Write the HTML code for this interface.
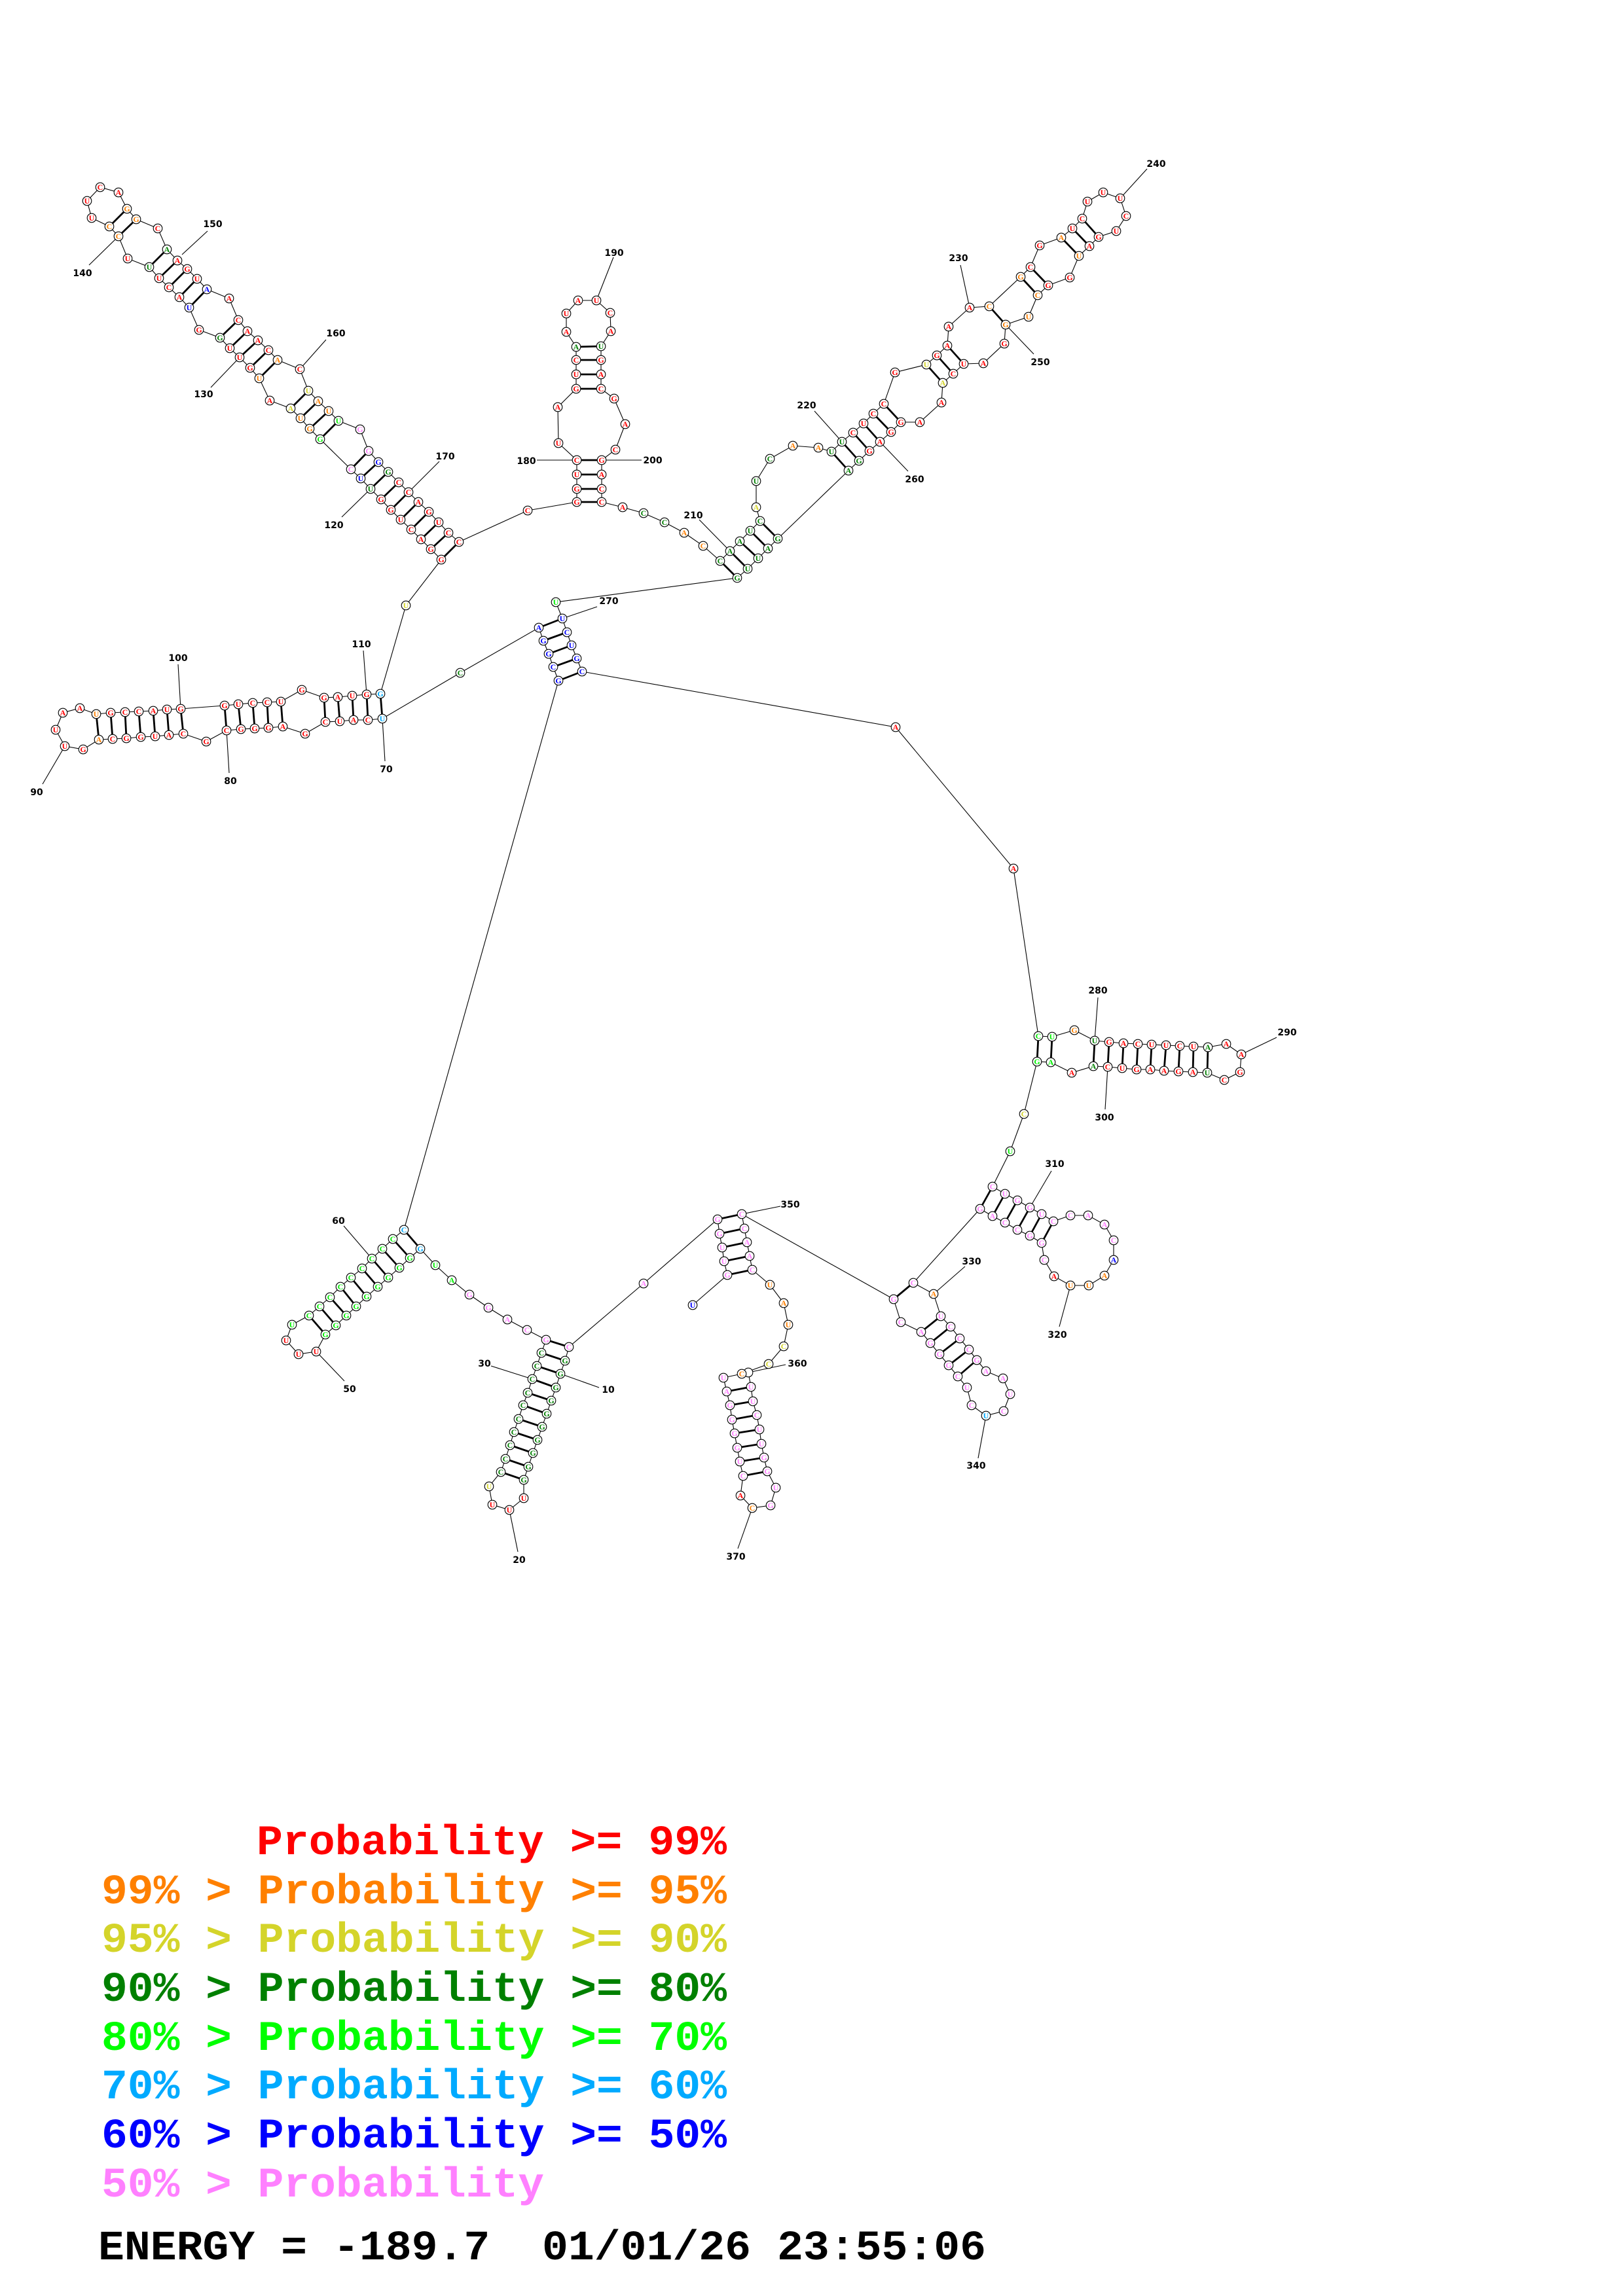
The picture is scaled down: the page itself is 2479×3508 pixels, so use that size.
<!DOCTYPE html>
<html><head><meta charset="utf-8"><style>
html,body{margin:0;padding:0;background:#fff}
svg{display:block}
.bb{fill:none;stroke:#000;stroke-width:1.1}
.pr{fill:none;stroke:#000;stroke-width:2.8}
.nd circle{fill:#fff;stroke:#000;stroke-width:1.1}
.nt text{font-family:"Liberation Serif",serif;font-weight:bold;font-size:12px;text-anchor:middle}
.lb text{font-family:"DejaVu Sans",sans-serif;font-weight:bold;font-size:14px;text-anchor:middle;fill:#000}
.r{fill:#ff0000}.o{fill:#ff8000}.y{fill:#d4d42a}.d{fill:#008000}.g{fill:#00ee00}.c{fill:#00aaff}.b{fill:#0000ff}.p{fill:#ff80ff}
.lg{font-family:"Liberation Mono",monospace;font-weight:bold;font-size:64px}
</style></head><body>
<svg width="2479" height="3508" viewBox="0 0 2479 3508" xmlns="http://www.w3.org/2000/svg">
<rect width="2479" height="3508" fill="#fff"/>
<g class="bb">
<polyline points="674,855 658,839 643,824 628,809 612,794 597,779 582,763 566,747 551,731 536,717 489,671 473,655 459,639 444,624 412,612 396,578 382,562 366,546 351,532 336,516 304,504 289,470 274,454 258,439 243,425 228,408 195,395 181,361 167,346 140,333 133,307 153,286 181,294 194,319 208,335 241,349 255,381 271,398 286,411 301,426 316,442 350,456 364,489 378,506 394,520 410,535 424,550 458,564 471,597 486,613 502,628 517,643 550,656 563,689 578,706 593,721 609,737 624,752 639,767 655,782 670,798 685,814 701,828 806,780 881,767"/>
<polyline points="674,855 620,925 581,1060"/>
<polyline points="881,767 881,747 881,725 881,703 853,677 852,622 880,594 880,572 880,550 880,530 865,507 865,479 883,459 911,459 932,478 933,506 918,529 918,550 918,572 918,594 938,609 955,648 940,687 919,703 919,725 919,747 919,767 951,775 983,784 1015,798 1045,814 1074,834 1100,857 1115,842 1130,827 1146,811 1161,796 1155,775 1155,735 1176,701 1211,681 1250,684 1270,690 1286,675 1303,661 1319,647 1334,632 1350,617 1367,569 1415,557 1431,543 1447,528 1449,499 1481,470 1511,468 1559,423 1574,408 1588,375 1621,363 1638,349 1653,334 1661,308 1685,294 1711,303 1720,330 1705,353 1678,362 1664,376 1648,391 1634,424 1601,436 1585,451 1571,484 1536,496 1534,525 1502,555 1472,556 1456,571 1440,585 1438,615 1405,645 1376,645 1361,660 1344,675 1328,689 1312,704 1296,719 1188,823 1173,838 1158,853 1142,869 1126,883 849,920 859,945 866,966 873,986 881,1006 889,1026 1368,1111 1548,1327 1586,1583 1607,1584 1641,1574 1672,1590 1694,1592 1716,1594 1738,1595 1759,1596 1781,1597 1802,1598 1823,1599 1845,1600 1873,1595 1896,1611 1894,1638 1870,1650 1844,1639 1822,1638 1800,1637 1778,1636 1757,1634 1736,1634 1714,1632 1692,1630 1670,1629 1637,1639 1605,1623 1584,1622 1564,1702 1543,1759 1516,1813 1535,1824 1554,1834 1573,1845 1591,1855 1609,1866 1635,1857 1662,1857 1687,1871 1701,1895 1701,1925 1687,1949 1663,1964 1635,1964 1610,1950 1595,1925 1591,1899 1573,1888 1554,1879 1535,1868 1516,1858 1497,1847 1395,1960 1426,1977 1437,2011 1452,2027 1466,2045 1480,2062 1492,2078 1506,2095 1532,2106 1543,2130 1533,2156 1506,2163 1484,2147 1477,2120 1463,2103 1449,2086 1435,2069 1421,2052 1407,2035 1376,2020 1365,1985 1133,1855 1137,1877 1141,1898 1145,1919 1149,1940 1176,1963 1197,1991 1204,2024 1197,2057 1174,2084 1133,2099 1105,2105 1110,2126 1115,2147 1118,2169 1122,2190 1126,2212 1130,2233 1135,2255 1131,2285 1149,2304 1177,2300 1185,2273 1172,2248 1167,2227 1163,2206 1160,2184 1156,2162 1150,2141 1147,2119 1143,2097"/>
<polyline points="581,1060 560,1061 538,1063 516,1065 495,1066 461,1054 429,1072 408,1073 386,1074 364,1076 343,1078 276,1083 255,1084 234,1086 212,1087 191,1088 169,1089 147,1091 122,1082 96,1089 85,1115 99,1140 127,1145 151,1130 172,1129 193,1128 215,1126 237,1125 258,1123 280,1121 315,1133 346,1116 368,1114 389,1113 410,1112 432,1110 466,1121 497,1103 519,1102 540,1100 562,1100 584,1098 703,1028 823,959 830,979 838,999 845,1019 853,1040 617,1879 600,1893 584,1908 568,1923 553,1938 536,1952 520,1966 504,1982 488,1996 472,2010 446,2024 437,2048 456,2069 483,2065 497,2039 513,2025 529,2010 544,1996 560,1981 577,1966 593,1952 610,1937 626,1922 642,1908 665,1933 690,1956 717,1978 746,1998 775,2016 805,2032 834,2047 827,2067 820,2087 813,2107 806,2128 799,2147 792,2168 785,2188 779,2208 772,2229 765,2249 747,2271 752,2299 778,2307 800,2289 800,2261 807,2241 814,2220 821,2200 828,2180 835,2160 842,2140 849,2120 856,2099 863,2079 869,2058 983,1961 1096,1863 1099,1885 1103,1906 1106,1927 1111,1948 1058,1994"/>
<path d="M136,405L181,361 M278,389L317,353 M322,592L366,546 M458,564L498,519 M522,790L566,747 M671,705L624,752 M820,703L881,703 M937,393L911,459 M919,703L980,703 M272,1015L276,1083 M555,994L560,1061 M584,1098L588,1163 M346,1116L350,1181 M99,1140L65,1198 M859,945L912,927 M1068,794L1115,842 M1244,628L1286,675 M1467,405L1481,470 M1752,258L1711,303 M1536,496L1579,541 M1344,675L1387,720 M1677,1524L1672,1590 M1896,1611L1950,1585 M1692,1630L1688,1695 M1573,1845L1606,1789 M1635,1964L1618,2027 M1426,1977L1474,1935 M1506,2163L1494,2228 M1133,1855L1192,1843 M1143,2097L1200,2085 M1149,2304L1127,2366 M856,2099L915,2120 M778,2307L791,2371 M750,2087L813,2107 M483,2065L526,2110 M525,1873L568,1923"/>
</g>
<path class="pr" d="M674,855L701,828M658,839L685,814M643,824L670,798M628,809L655,782M612,794L639,767M597,779L624,752M582,763L609,737M566,747L593,721M551,731L578,706M536,717L563,689M489,671L517,643M473,655L502,628M459,639L486,613M444,624L471,597M396,578L424,550M382,562L410,535M366,546L394,520M351,532L378,506M336,516L364,489M289,470L316,442M274,454L301,426M258,439L286,411M243,425L271,398M228,408L255,381M181,361L208,335M167,346L194,319
M881,767L919,767M881,747L919,747M881,725L919,725M881,703L919,703M880,594L918,594M880,572L918,572M880,550L918,550M880,530L918,529
M1100,857L1126,883M1115,842L1142,869M1130,827L1158,853M1146,811L1173,838M1161,796L1188,823M1270,690L1296,719M1286,675L1312,704M1303,661L1328,689M1319,647L1344,675M1334,632L1361,660M1350,617L1376,645M1415,557L1440,585M1431,543L1456,571M1447,528L1472,556M1511,468L1536,496M1559,423L1585,451M1574,408L1601,436M1621,363L1648,391M1638,349L1664,376M1653,334L1678,362
M823,959L859,945M830,979L866,966M838,999L873,986M845,1019L881,1006M853,1040L889,1026
M581,1060L584,1098M560,1061L562,1100M538,1063L540,1100M516,1065L519,1102M495,1066L497,1103M429,1072L432,1110M408,1073L410,1112M386,1074L389,1113M364,1076L368,1114M343,1078L346,1116M276,1083L280,1121M255,1084L258,1123M234,1086L237,1125M212,1087L215,1126M191,1088L193,1128M169,1089L172,1129M147,1091L151,1130
M869,2058L834,2047M863,2079L827,2067M856,2099L820,2087M849,2120L813,2107M842,2140L806,2128M835,2160L799,2147M828,2180L792,2168M821,2200L785,2188M814,2220L779,2208M807,2241L772,2229M800,2261L765,2249
M617,1879L642,1908M600,1893L626,1922M584,1908L610,1937M568,1923L593,1952M553,1938L577,1966M536,1952L560,1981M520,1966L544,1996M504,1982L529,2010M488,1996L513,2025M472,2010L497,2039
M1096,1863L1133,1855M1099,1885L1137,1877M1103,1906L1141,1898M1106,1927L1145,1919M1111,1948L1149,1940M1110,2126L1147,2119M1115,2147L1150,2141M1118,2169L1156,2162M1122,2190L1160,2184M1126,2212L1163,2206M1130,2233L1167,2227M1135,2255L1172,2248
M1586,1583L1584,1622M1607,1584L1605,1623M1672,1590L1670,1629M1694,1592L1692,1630M1716,1594L1714,1632M1738,1595L1736,1634M1759,1596L1757,1634M1781,1597L1778,1636M1802,1598L1800,1637M1823,1599L1822,1638M1845,1600L1844,1639
M1516,1813L1497,1847M1535,1824L1516,1858M1554,1834L1535,1868M1573,1845L1554,1879M1591,1855L1573,1888M1609,1866L1591,1899
M1395,1960L1365,1985M1437,2011L1407,2035M1452,2027L1421,2052M1466,2045L1435,2069M1480,2062L1449,2086M1492,2078L1463,2103"/>
<g class="nd">
<circle cx="674" cy="855" r="6.8"/><circle cx="658" cy="839" r="6.8"/><circle cx="643" cy="824" r="6.8"/><circle cx="628" cy="809" r="6.8"/><circle cx="612" cy="794" r="6.8"/><circle cx="597" cy="779" r="6.8"/><circle cx="582" cy="763" r="6.8"/><circle cx="566" cy="747" r="6.8"/><circle cx="551" cy="731" r="6.8"/><circle cx="536" cy="717" r="6.8"/><circle cx="489" cy="671" r="6.8"/><circle cx="473" cy="655" r="6.8"/><circle cx="459" cy="639" r="6.8"/><circle cx="444" cy="624" r="6.8"/><circle cx="412" cy="612" r="6.8"/><circle cx="396" cy="578" r="6.8"/><circle cx="382" cy="562" r="6.8"/><circle cx="366" cy="546" r="6.8"/><circle cx="351" cy="532" r="6.8"/><circle cx="336" cy="516" r="6.8"/><circle cx="304" cy="504" r="6.8"/><circle cx="289" cy="470" r="6.8"/><circle cx="274" cy="454" r="6.8"/><circle cx="258" cy="439" r="6.8"/><circle cx="243" cy="425" r="6.8"/><circle cx="228" cy="408" r="6.8"/><circle cx="195" cy="395" r="6.8"/><circle cx="181" cy="361" r="6.8"/><circle cx="167" cy="346" r="6.8"/><circle cx="140" cy="333" r="6.8"/><circle cx="133" cy="307" r="6.8"/><circle cx="153" cy="286" r="6.8"/><circle cx="181" cy="294" r="6.8"/><circle cx="194" cy="319" r="6.8"/><circle cx="208" cy="335" r="6.8"/><circle cx="241" cy="349" r="6.8"/><circle cx="255" cy="381" r="6.8"/><circle cx="271" cy="398" r="6.8"/><circle cx="286" cy="411" r="6.8"/><circle cx="301" cy="426" r="6.8"/><circle cx="316" cy="442" r="6.8"/><circle cx="350" cy="456" r="6.8"/><circle cx="364" cy="489" r="6.8"/><circle cx="378" cy="506" r="6.8"/><circle cx="394" cy="520" r="6.8"/><circle cx="410" cy="535" r="6.8"/><circle cx="424" cy="550" r="6.8"/><circle cx="458" cy="564" r="6.8"/><circle cx="471" cy="597" r="6.8"/><circle cx="486" cy="613" r="6.8"/><circle cx="502" cy="628" r="6.8"/><circle cx="517" cy="643" r="6.8"/><circle cx="550" cy="656" r="6.8"/><circle cx="563" cy="689" r="6.8"/><circle cx="578" cy="706" r="6.8"/><circle cx="593" cy="721" r="6.8"/><circle cx="609" cy="737" r="6.8"/><circle cx="624" cy="752" r="6.8"/><circle cx="639" cy="767" r="6.8"/><circle cx="655" cy="782" r="6.8"/><circle cx="670" cy="798" r="6.8"/><circle cx="685" cy="814" r="6.8"/><circle cx="701" cy="828" r="6.8"/>
<circle cx="806" cy="780" r="6.8"/><circle cx="620" cy="925" r="6.8"/>
<circle cx="881" cy="767" r="6.8"/><circle cx="881" cy="747" r="6.8"/><circle cx="881" cy="725" r="6.8"/><circle cx="881" cy="703" r="6.8"/><circle cx="853" cy="677" r="6.8"/><circle cx="852" cy="622" r="6.8"/><circle cx="880" cy="594" r="6.8"/><circle cx="880" cy="572" r="6.8"/><circle cx="880" cy="550" r="6.8"/><circle cx="880" cy="530" r="6.8"/><circle cx="865" cy="507" r="6.8"/><circle cx="865" cy="479" r="6.8"/><circle cx="883" cy="459" r="6.8"/><circle cx="911" cy="459" r="6.8"/><circle cx="932" cy="478" r="6.8"/><circle cx="933" cy="506" r="6.8"/><circle cx="918" cy="529" r="6.8"/><circle cx="918" cy="550" r="6.8"/><circle cx="918" cy="572" r="6.8"/><circle cx="918" cy="594" r="6.8"/><circle cx="938" cy="609" r="6.8"/><circle cx="955" cy="648" r="6.8"/><circle cx="940" cy="687" r="6.8"/><circle cx="919" cy="703" r="6.8"/><circle cx="919" cy="725" r="6.8"/><circle cx="919" cy="747" r="6.8"/><circle cx="919" cy="767" r="6.8"/><circle cx="951" cy="775" r="6.8"/><circle cx="983" cy="784" r="6.8"/><circle cx="1015" cy="798" r="6.8"/><circle cx="1045" cy="814" r="6.8"/><circle cx="1074" cy="834" r="6.8"/>
<circle cx="1100" cy="857" r="6.8"/><circle cx="1115" cy="842" r="6.8"/><circle cx="1130" cy="827" r="6.8"/><circle cx="1146" cy="811" r="6.8"/><circle cx="1161" cy="796" r="6.8"/><circle cx="1155" cy="775" r="6.8"/><circle cx="1155" cy="735" r="6.8"/><circle cx="1176" cy="701" r="6.8"/><circle cx="1211" cy="681" r="6.8"/><circle cx="1250" cy="684" r="6.8"/><circle cx="1270" cy="690" r="6.8"/><circle cx="1286" cy="675" r="6.8"/><circle cx="1303" cy="661" r="6.8"/><circle cx="1319" cy="647" r="6.8"/><circle cx="1334" cy="632" r="6.8"/><circle cx="1350" cy="617" r="6.8"/><circle cx="1367" cy="569" r="6.8"/><circle cx="1415" cy="557" r="6.8"/><circle cx="1431" cy="543" r="6.8"/><circle cx="1447" cy="528" r="6.8"/><circle cx="1449" cy="499" r="6.8"/><circle cx="1481" cy="470" r="6.8"/><circle cx="1511" cy="468" r="6.8"/><circle cx="1559" cy="423" r="6.8"/><circle cx="1574" cy="408" r="6.8"/><circle cx="1588" cy="375" r="6.8"/><circle cx="1621" cy="363" r="6.8"/><circle cx="1638" cy="349" r="6.8"/><circle cx="1653" cy="334" r="6.8"/><circle cx="1661" cy="308" r="6.8"/><circle cx="1685" cy="294" r="6.8"/><circle cx="1711" cy="303" r="6.8"/><circle cx="1720" cy="330" r="6.8"/><circle cx="1705" cy="353" r="6.8"/><circle cx="1678" cy="362" r="6.8"/><circle cx="1664" cy="376" r="6.8"/><circle cx="1648" cy="391" r="6.8"/><circle cx="1634" cy="424" r="6.8"/><circle cx="1601" cy="436" r="6.8"/><circle cx="1585" cy="451" r="6.8"/><circle cx="1571" cy="484" r="6.8"/><circle cx="1536" cy="496" r="6.8"/><circle cx="1534" cy="525" r="6.8"/><circle cx="1502" cy="555" r="6.8"/><circle cx="1472" cy="556" r="6.8"/><circle cx="1456" cy="571" r="6.8"/><circle cx="1440" cy="585" r="6.8"/><circle cx="1438" cy="615" r="6.8"/><circle cx="1405" cy="645" r="6.8"/><circle cx="1376" cy="645" r="6.8"/><circle cx="1361" cy="660" r="6.8"/><circle cx="1344" cy="675" r="6.8"/><circle cx="1328" cy="689" r="6.8"/><circle cx="1312" cy="704" r="6.8"/><circle cx="1296" cy="719" r="6.8"/><circle cx="1188" cy="823" r="6.8"/><circle cx="1173" cy="838" r="6.8"/><circle cx="1158" cy="853" r="6.8"/><circle cx="1142" cy="869" r="6.8"/><circle cx="1126" cy="883" r="6.8"/>
<circle cx="849" cy="920" r="6.8"/><circle cx="859" cy="945" r="6.8"/><circle cx="866" cy="966" r="6.8"/><circle cx="873" cy="986" r="6.8"/><circle cx="881" cy="1006" r="6.8"/><circle cx="889" cy="1026" r="6.8"/><circle cx="823" cy="959" r="6.8"/><circle cx="830" cy="979" r="6.8"/><circle cx="838" cy="999" r="6.8"/><circle cx="845" cy="1019" r="6.8"/><circle cx="853" cy="1040" r="6.8"/><circle cx="703" cy="1028" r="6.8"/><circle cx="1368" cy="1111" r="6.8"/><circle cx="1548" cy="1327" r="6.8"/>
<circle cx="581" cy="1060" r="6.8"/><circle cx="560" cy="1061" r="6.8"/><circle cx="538" cy="1063" r="6.8"/><circle cx="516" cy="1065" r="6.8"/><circle cx="495" cy="1066" r="6.8"/><circle cx="461" cy="1054" r="6.8"/><circle cx="429" cy="1072" r="6.8"/><circle cx="408" cy="1073" r="6.8"/><circle cx="386" cy="1074" r="6.8"/><circle cx="364" cy="1076" r="6.8"/><circle cx="343" cy="1078" r="6.8"/><circle cx="276" cy="1083" r="6.8"/><circle cx="255" cy="1084" r="6.8"/><circle cx="234" cy="1086" r="6.8"/><circle cx="212" cy="1087" r="6.8"/><circle cx="191" cy="1088" r="6.8"/><circle cx="169" cy="1089" r="6.8"/><circle cx="147" cy="1091" r="6.8"/><circle cx="122" cy="1082" r="6.8"/><circle cx="96" cy="1089" r="6.8"/><circle cx="85" cy="1115" r="6.8"/><circle cx="99" cy="1140" r="6.8"/><circle cx="127" cy="1145" r="6.8"/><circle cx="151" cy="1130" r="6.8"/><circle cx="172" cy="1129" r="6.8"/><circle cx="193" cy="1128" r="6.8"/><circle cx="215" cy="1126" r="6.8"/><circle cx="237" cy="1125" r="6.8"/><circle cx="258" cy="1123" r="6.8"/><circle cx="280" cy="1121" r="6.8"/><circle cx="315" cy="1133" r="6.8"/><circle cx="346" cy="1116" r="6.8"/><circle cx="368" cy="1114" r="6.8"/><circle cx="389" cy="1113" r="6.8"/><circle cx="410" cy="1112" r="6.8"/><circle cx="432" cy="1110" r="6.8"/><circle cx="466" cy="1121" r="6.8"/><circle cx="497" cy="1103" r="6.8"/><circle cx="519" cy="1102" r="6.8"/><circle cx="540" cy="1100" r="6.8"/><circle cx="562" cy="1100" r="6.8"/><circle cx="584" cy="1098" r="6.8"/>
<circle cx="617" cy="1879" r="6.8"/><circle cx="642" cy="1908" r="6.8"/><circle cx="665" cy="1933" r="6.8"/><circle cx="690" cy="1956" r="6.8"/><circle cx="717" cy="1978" r="6.8"/><circle cx="746" cy="1998" r="6.8"/><circle cx="775" cy="2016" r="6.8"/><circle cx="805" cy="2032" r="6.8"/><circle cx="834" cy="2047" r="6.8"/><circle cx="869" cy="2058" r="6.8"/><circle cx="863" cy="2079" r="6.8"/><circle cx="856" cy="2099" r="6.8"/><circle cx="849" cy="2120" r="6.8"/><circle cx="842" cy="2140" r="6.8"/><circle cx="835" cy="2160" r="6.8"/><circle cx="828" cy="2180" r="6.8"/><circle cx="821" cy="2200" r="6.8"/><circle cx="814" cy="2220" r="6.8"/><circle cx="807" cy="2241" r="6.8"/><circle cx="800" cy="2261" r="6.8"/><circle cx="800" cy="2289" r="6.8"/><circle cx="778" cy="2307" r="6.8"/><circle cx="752" cy="2299" r="6.8"/><circle cx="747" cy="2271" r="6.8"/><circle cx="765" cy="2249" r="6.8"/><circle cx="772" cy="2229" r="6.8"/><circle cx="779" cy="2208" r="6.8"/><circle cx="785" cy="2188" r="6.8"/><circle cx="792" cy="2168" r="6.8"/><circle cx="799" cy="2147" r="6.8"/><circle cx="806" cy="2128" r="6.8"/><circle cx="813" cy="2107" r="6.8"/><circle cx="820" cy="2087" r="6.8"/><circle cx="827" cy="2067" r="6.8"/>
<circle cx="600" cy="1893" r="6.8"/><circle cx="584" cy="1908" r="6.8"/><circle cx="568" cy="1923" r="6.8"/><circle cx="553" cy="1938" r="6.8"/><circle cx="536" cy="1952" r="6.8"/><circle cx="520" cy="1966" r="6.8"/><circle cx="504" cy="1982" r="6.8"/><circle cx="488" cy="1996" r="6.8"/><circle cx="472" cy="2010" r="6.8"/><circle cx="446" cy="2024" r="6.8"/><circle cx="437" cy="2048" r="6.8"/><circle cx="456" cy="2069" r="6.8"/><circle cx="483" cy="2065" r="6.8"/><circle cx="497" cy="2039" r="6.8"/><circle cx="513" cy="2025" r="6.8"/><circle cx="529" cy="2010" r="6.8"/><circle cx="544" cy="1996" r="6.8"/><circle cx="560" cy="1981" r="6.8"/><circle cx="577" cy="1966" r="6.8"/><circle cx="593" cy="1952" r="6.8"/><circle cx="610" cy="1937" r="6.8"/><circle cx="626" cy="1922" r="6.8"/>
<circle cx="983" cy="1961" r="6.8"/><circle cx="1096" cy="1863" r="6.8"/><circle cx="1099" cy="1885" r="6.8"/><circle cx="1103" cy="1906" r="6.8"/><circle cx="1106" cy="1927" r="6.8"/><circle cx="1111" cy="1948" r="6.8"/><circle cx="1058" cy="1994" r="6.8"/><circle cx="1133" cy="1855" r="6.8"/><circle cx="1137" cy="1877" r="6.8"/><circle cx="1141" cy="1898" r="6.8"/><circle cx="1145" cy="1919" r="6.8"/><circle cx="1149" cy="1940" r="6.8"/><circle cx="1176" cy="1963" r="6.8"/><circle cx="1197" cy="1991" r="6.8"/><circle cx="1204" cy="2024" r="6.8"/><circle cx="1197" cy="2057" r="6.8"/><circle cx="1174" cy="2084" r="6.8"/><circle cx="1143" cy="2097" r="6.8"/><circle cx="1133" cy="2099" r="6.8"/><circle cx="1105" cy="2105" r="6.8"/><circle cx="1110" cy="2126" r="6.8"/><circle cx="1115" cy="2147" r="6.8"/><circle cx="1118" cy="2169" r="6.8"/><circle cx="1122" cy="2190" r="6.8"/><circle cx="1126" cy="2212" r="6.8"/><circle cx="1130" cy="2233" r="6.8"/><circle cx="1135" cy="2255" r="6.8"/><circle cx="1131" cy="2285" r="6.8"/><circle cx="1149" cy="2304" r="6.8"/><circle cx="1177" cy="2300" r="6.8"/><circle cx="1185" cy="2273" r="6.8"/><circle cx="1172" cy="2248" r="6.8"/><circle cx="1167" cy="2227" r="6.8"/><circle cx="1163" cy="2206" r="6.8"/><circle cx="1160" cy="2184" r="6.8"/><circle cx="1156" cy="2162" r="6.8"/><circle cx="1150" cy="2141" r="6.8"/><circle cx="1147" cy="2119" r="6.8"/>
<circle cx="1586" cy="1583" r="6.8"/><circle cx="1607" cy="1584" r="6.8"/><circle cx="1641" cy="1574" r="6.8"/><circle cx="1672" cy="1590" r="6.8"/><circle cx="1694" cy="1592" r="6.8"/><circle cx="1716" cy="1594" r="6.8"/><circle cx="1738" cy="1595" r="6.8"/><circle cx="1759" cy="1596" r="6.8"/><circle cx="1781" cy="1597" r="6.8"/><circle cx="1802" cy="1598" r="6.8"/><circle cx="1823" cy="1599" r="6.8"/><circle cx="1845" cy="1600" r="6.8"/><circle cx="1873" cy="1595" r="6.8"/><circle cx="1896" cy="1611" r="6.8"/><circle cx="1894" cy="1638" r="6.8"/><circle cx="1870" cy="1650" r="6.8"/><circle cx="1844" cy="1639" r="6.8"/><circle cx="1822" cy="1638" r="6.8"/><circle cx="1800" cy="1637" r="6.8"/><circle cx="1778" cy="1636" r="6.8"/><circle cx="1757" cy="1634" r="6.8"/><circle cx="1736" cy="1634" r="6.8"/><circle cx="1714" cy="1632" r="6.8"/><circle cx="1692" cy="1630" r="6.8"/><circle cx="1670" cy="1629" r="6.8"/><circle cx="1637" cy="1639" r="6.8"/><circle cx="1605" cy="1623" r="6.8"/><circle cx="1584" cy="1622" r="6.8"/><circle cx="1564" cy="1702" r="6.8"/><circle cx="1543" cy="1759" r="6.8"/>
<circle cx="1516" cy="1813" r="6.8"/><circle cx="1535" cy="1824" r="6.8"/><circle cx="1554" cy="1834" r="6.8"/><circle cx="1573" cy="1845" r="6.8"/><circle cx="1591" cy="1855" r="6.8"/><circle cx="1609" cy="1866" r="6.8"/><circle cx="1635" cy="1857" r="6.8"/><circle cx="1662" cy="1857" r="6.8"/><circle cx="1687" cy="1871" r="6.8"/><circle cx="1701" cy="1895" r="6.8"/><circle cx="1701" cy="1925" r="6.8"/><circle cx="1687" cy="1949" r="6.8"/><circle cx="1663" cy="1964" r="6.8"/><circle cx="1635" cy="1964" r="6.8"/><circle cx="1610" cy="1950" r="6.8"/><circle cx="1595" cy="1925" r="6.8"/><circle cx="1591" cy="1899" r="6.8"/><circle cx="1573" cy="1888" r="6.8"/><circle cx="1554" cy="1879" r="6.8"/><circle cx="1535" cy="1868" r="6.8"/><circle cx="1516" cy="1858" r="6.8"/><circle cx="1497" cy="1847" r="6.8"/>
<circle cx="1395" cy="1960" r="6.8"/><circle cx="1426" cy="1977" r="6.8"/><circle cx="1437" cy="2011" r="6.8"/><circle cx="1452" cy="2027" r="6.8"/><circle cx="1466" cy="2045" r="6.8"/><circle cx="1480" cy="2062" r="6.8"/><circle cx="1492" cy="2078" r="6.8"/><circle cx="1506" cy="2095" r="6.8"/><circle cx="1532" cy="2106" r="6.8"/><circle cx="1543" cy="2130" r="6.8"/><circle cx="1533" cy="2156" r="6.8"/><circle cx="1506" cy="2163" r="6.8"/><circle cx="1484" cy="2147" r="6.8"/><circle cx="1477" cy="2120" r="6.8"/><circle cx="1463" cy="2103" r="6.8"/><circle cx="1449" cy="2086" r="6.8"/><circle cx="1435" cy="2069" r="6.8"/><circle cx="1421" cy="2052" r="6.8"/><circle cx="1407" cy="2035" r="6.8"/><circle cx="1376" cy="2020" r="6.8"/><circle cx="1365" cy="1985" r="6.8"/>
</g>
<g class="nt" transform="translate(0,4)">
<text x="674" y="855" class="r">G</text><text x="658" y="839" class="r">G</text><text x="643" y="824" class="r">A</text><text x="628" y="809" class="r">C</text><text x="612" y="794" class="r">U</text><text x="597" y="779" class="r">G</text><text x="582" y="763" class="r">G</text><text x="566" y="747" class="d">U</text><text x="551" y="731" class="b">U</text><text x="536" y="717" class="p">C</text><text x="489" y="671" class="g">G</text><text x="473" y="655" class="o">G</text><text x="459" y="639" class="o">U</text><text x="444" y="624" class="y">A</text><text x="412" y="612" class="r">A</text><text x="396" y="578" class="o">U</text><text x="382" y="562" class="r">G</text><text x="366" y="546" class="r">U</text><text x="351" y="532" class="r">U</text><text x="336" y="516" class="d">G</text><text x="304" y="504" class="r">G</text><text x="289" y="470" class="b">U</text><text x="274" y="454" class="r">A</text><text x="258" y="439" class="r">C</text><text x="243" y="425" class="r">U</text><text x="228" y="408" class="d">U</text><text x="195" y="395" class="r">U</text><text x="181" y="361" class="o">C</text><text x="167" y="346" class="o">C</text><text x="140" y="333" class="r">U</text><text x="133" y="307" class="r">U</text><text x="153" y="286" class="r">C</text><text x="181" y="294" class="r">A</text><text x="194" y="319" class="o">G</text><text x="208" y="335" class="o">G</text><text x="241" y="349" class="r">C</text><text x="255" y="381" class="d">A</text><text x="271" y="398" class="r">A</text><text x="286" y="411" class="r">G</text><text x="301" y="426" class="r">U</text><text x="316" y="442" class="b">A</text><text x="350" y="456" class="r">A</text><text x="364" y="489" class="r">C</text><text x="378" y="506" class="r">A</text><text x="394" y="520" class="r">A</text><text x="410" y="535" class="r">C</text><text x="424" y="550" class="o">A</text><text x="458" y="564" class="r">C</text><text x="471" y="597" class="y">U</text><text x="486" y="613" class="o">A</text><text x="502" y="628" class="o">U</text><text x="517" y="643" class="g">U</text><text x="550" y="656" class="p">G</text><text x="563" y="689" class="p">G</text><text x="578" y="706" class="b">G</text><text x="593" y="721" class="d">G</text><text x="609" y="737" class="r">C</text><text x="624" y="752" class="r">C</text><text x="639" y="767" class="r">A</text><text x="655" y="782" class="r">G</text><text x="670" y="798" class="r">U</text><text x="685" y="814" class="r">C</text><text x="701" y="828" class="r">C</text>
<text x="806" y="780" class="r">C</text><text x="620" y="925" class="y">U</text>
<text x="881" y="767" class="r">G</text><text x="881" y="747" class="r">G</text><text x="881" y="725" class="r">U</text><text x="881" y="703" class="r">C</text><text x="853" y="677" class="r">U</text><text x="852" y="622" class="r">A</text><text x="880" y="594" class="r">G</text><text x="880" y="572" class="r">U</text><text x="880" y="550" class="r">C</text><text x="880" y="530" class="d">A</text><text x="865" y="507" class="r">A</text><text x="865" y="479" class="r">U</text><text x="883" y="459" class="r">A</text><text x="911" y="459" class="r">U</text><text x="932" y="478" class="r">C</text><text x="933" y="506" class="r">A</text><text x="918" y="529" class="d">U</text><text x="918" y="550" class="r">G</text><text x="918" y="572" class="r">A</text><text x="918" y="594" class="r">C</text><text x="938" y="609" class="r">G</text><text x="955" y="648" class="r">A</text><text x="940" y="687" class="r">C</text><text x="919" y="703" class="r">G</text><text x="919" y="725" class="r">A</text><text x="919" y="747" class="r">C</text><text x="919" y="767" class="r">C</text><text x="951" y="775" class="r">A</text><text x="983" y="784" class="d">C</text><text x="1015" y="798" class="d">C</text><text x="1045" y="814" class="o">A</text><text x="1074" y="834" class="o">C</text>
<text x="1100" y="857" class="d">C</text><text x="1115" y="842" class="d">A</text><text x="1130" y="827" class="d">A</text><text x="1146" y="811" class="d">U</text><text x="1161" y="796" class="d">C</text><text x="1155" y="775" class="y">A</text><text x="1155" y="735" class="d">U</text><text x="1176" y="701" class="d">C</text><text x="1211" y="681" class="o">A</text><text x="1250" y="684" class="o">A</text><text x="1270" y="690" class="d">U</text><text x="1286" y="675" class="d">U</text><text x="1303" y="661" class="r">C</text><text x="1319" y="647" class="r">U</text><text x="1334" y="632" class="r">C</text><text x="1350" y="617" class="r">C</text><text x="1367" y="569" class="r">G</text><text x="1415" y="557" class="y">U</text><text x="1431" y="543" class="r">G</text><text x="1447" y="528" class="r">A</text><text x="1449" y="499" class="r">A</text><text x="1481" y="470" class="r">A</text><text x="1511" y="468" class="o">C</text><text x="1559" y="423" class="o">G</text><text x="1574" y="408" class="r">C</text><text x="1588" y="375" class="r">G</text><text x="1621" y="363" class="o">A</text><text x="1638" y="349" class="r">U</text><text x="1653" y="334" class="r">C</text><text x="1661" y="308" class="r">U</text><text x="1685" y="294" class="r">U</text><text x="1711" y="303" class="r">U</text><text x="1720" y="330" class="r">C</text><text x="1705" y="353" class="r">U</text><text x="1678" y="362" class="r">G</text><text x="1664" y="376" class="r">A</text><text x="1648" y="391" class="o">U</text><text x="1634" y="424" class="r">G</text><text x="1601" y="436" class="r">G</text><text x="1585" y="451" class="o">C</text><text x="1571" y="484" class="o">U</text><text x="1536" y="496" class="o">G</text><text x="1534" y="525" class="r">G</text><text x="1502" y="555" class="r">A</text><text x="1472" y="556" class="r">U</text><text x="1456" y="571" class="r">C</text><text x="1440" y="585" class="y">A</text><text x="1438" y="615" class="r">A</text><text x="1405" y="645" class="r">A</text><text x="1376" y="645" class="r">G</text><text x="1361" y="660" class="r">G</text><text x="1344" y="675" class="r">A</text><text x="1328" y="689" class="r">G</text><text x="1312" y="704" class="d">G</text><text x="1296" y="719" class="d">A</text><text x="1188" y="823" class="d">G</text><text x="1173" y="838" class="d">A</text><text x="1158" y="853" class="d">U</text><text x="1142" y="869" class="d">U</text><text x="1126" y="883" class="d">G</text>
<text x="849" y="920" class="g">U</text><text x="859" y="945" class="b">U</text><text x="866" y="966" class="b">C</text><text x="873" y="986" class="b">U</text><text x="881" y="1006" class="b">G</text><text x="889" y="1026" class="b">C</text><text x="823" y="959" class="b">A</text><text x="830" y="979" class="b">G</text><text x="838" y="999" class="b">G</text><text x="845" y="1019" class="b">C</text><text x="853" y="1040" class="b">G</text><text x="703" y="1028" class="d">C</text><text x="1368" y="1111" class="r">A</text><text x="1548" y="1327" class="r">A</text>
<text x="581" y="1060" class="c">G</text><text x="560" y="1061" class="r">G</text><text x="538" y="1063" class="r">U</text><text x="516" y="1065" class="r">A</text><text x="495" y="1066" class="r">G</text><text x="461" y="1054" class="r">G</text><text x="429" y="1072" class="r">U</text><text x="408" y="1073" class="r">C</text><text x="386" y="1074" class="r">C</text><text x="364" y="1076" class="r">U</text><text x="343" y="1078" class="r">G</text><text x="276" y="1083" class="r">G</text><text x="255" y="1084" class="r">U</text><text x="234" y="1086" class="r">A</text><text x="212" y="1087" class="r">C</text><text x="191" y="1088" class="r">C</text><text x="169" y="1089" class="r">G</text><text x="147" y="1091" class="o">U</text><text x="122" y="1082" class="r">A</text><text x="96" y="1089" class="r">A</text><text x="85" y="1115" class="r">U</text><text x="99" y="1140" class="r">U</text><text x="127" y="1145" class="r">G</text><text x="151" y="1130" class="o">A</text><text x="172" y="1129" class="r">C</text><text x="193" y="1128" class="r">G</text><text x="215" y="1126" class="r">G</text><text x="237" y="1125" class="r">U</text><text x="258" y="1123" class="r">A</text><text x="280" y="1121" class="r">C</text><text x="315" y="1133" class="r">G</text><text x="346" y="1116" class="r">C</text><text x="368" y="1114" class="r">G</text><text x="389" y="1113" class="r">G</text><text x="410" y="1112" class="r">G</text><text x="432" y="1110" class="r">A</text><text x="466" y="1121" class="r">G</text><text x="497" y="1103" class="r">C</text><text x="519" y="1102" class="r">U</text><text x="540" y="1100" class="r">A</text><text x="562" y="1100" class="r">C</text><text x="584" y="1098" class="c">U</text>
<text x="617" y="1879" class="c">C</text><text x="642" y="1908" class="c">G</text><text x="665" y="1933" class="g">U</text><text x="690" y="1956" class="g">A</text><text x="717" y="1978" class="p">G</text><text x="746" y="1998" class="p">G</text><text x="775" y="2016" class="p">A</text><text x="805" y="2032" class="p">C</text><text x="834" y="2047" class="p">G</text><text x="869" y="2058" class="p">C</text><text x="863" y="2079" class="d">G</text><text x="856" y="2099" class="d">G</text><text x="849" y="2120" class="d">G</text><text x="842" y="2140" class="d">G</text><text x="835" y="2160" class="d">G</text><text x="828" y="2180" class="d">G</text><text x="821" y="2200" class="d">G</text><text x="814" y="2220" class="d">G</text><text x="807" y="2241" class="d">G</text><text x="800" y="2261" class="d">G</text><text x="800" y="2289" class="r">U</text><text x="778" y="2307" class="r">U</text><text x="752" y="2299" class="r">U</text><text x="747" y="2271" class="y">U</text><text x="765" y="2249" class="d">C</text><text x="772" y="2229" class="d">C</text><text x="779" y="2208" class="d">C</text><text x="785" y="2188" class="d">C</text><text x="792" y="2168" class="d">C</text><text x="799" y="2147" class="d">C</text><text x="806" y="2128" class="d">C</text><text x="813" y="2107" class="d">C</text><text x="820" y="2087" class="d">C</text><text x="827" y="2067" class="d">C</text>
<text x="600" y="1893" class="g">C</text><text x="584" y="1908" class="g">C</text><text x="568" y="1923" class="g">C</text><text x="553" y="1938" class="g">C</text><text x="536" y="1952" class="g">C</text><text x="520" y="1966" class="g">C</text><text x="504" y="1982" class="g">C</text><text x="488" y="1996" class="g">C</text><text x="472" y="2010" class="g">C</text><text x="446" y="2024" class="g">U</text><text x="437" y="2048" class="r">U</text><text x="456" y="2069" class="r">U</text><text x="483" y="2065" class="r">U</text><text x="497" y="2039" class="g">G</text><text x="513" y="2025" class="g">G</text><text x="529" y="2010" class="g">G</text><text x="544" y="1996" class="g">G</text><text x="560" y="1981" class="g">G</text><text x="577" y="1966" class="g">G</text><text x="593" y="1952" class="g">G</text><text x="610" y="1937" class="g">G</text><text x="626" y="1922" class="g">G</text>
<text x="983" y="1961" class="p">A</text><text x="1096" y="1863" class="p">G</text><text x="1099" y="1885" class="p">G</text><text x="1103" y="1906" class="p">U</text><text x="1106" y="1927" class="p">U</text><text x="1111" y="1948" class="p">G</text><text x="1058" y="1994" class="b">U</text><text x="1133" y="1855" class="p">C</text><text x="1137" y="1877" class="p">C</text><text x="1141" y="1898" class="p">A</text><text x="1145" y="1919" class="p">A</text><text x="1149" y="1940" class="p">C</text><text x="1176" y="1963" class="o">U</text><text x="1197" y="1991" class="o">A</text><text x="1204" y="2024" class="o">U</text><text x="1197" y="2057" class="y">C</text><text x="1174" y="2084" class="y">C</text><text x="1133" y="2099" class="o">C</text><text x="1105" y="2105" class="p">U</text><text x="1110" y="2126" class="p">A</text><text x="1115" y="2147" class="p">G</text><text x="1118" y="2169" class="p">G</text><text x="1122" y="2190" class="p">G</text><text x="1126" y="2212" class="p">G</text><text x="1130" y="2233" class="p">U</text><text x="1135" y="2255" class="p">C</text><text x="1131" y="2285" class="r">A</text><text x="1149" y="2304" class="o">C</text><text x="1177" y="2300" class="p">G</text><text x="1185" y="2273" class="p">U</text><text x="1172" y="2248" class="p">G</text><text x="1167" y="2227" class="p">G</text><text x="1163" y="2206" class="p">U</text><text x="1160" y="2184" class="p">U</text><text x="1156" y="2162" class="p">C</text><text x="1150" y="2141" class="p">U</text><text x="1147" y="2119" class="p">U</text>
<text x="1586" y="1583" class="g">C</text><text x="1607" y="1584" class="g">U</text><text x="1641" y="1574" class="o">G</text><text x="1672" y="1590" class="d">U</text><text x="1694" y="1592" class="r">G</text><text x="1716" y="1594" class="r">A</text><text x="1738" y="1595" class="r">C</text><text x="1759" y="1596" class="r">U</text><text x="1781" y="1597" class="r">U</text><text x="1802" y="1598" class="r">C</text><text x="1823" y="1599" class="r">U</text><text x="1845" y="1600" class="d">A</text><text x="1873" y="1595" class="r">A</text><text x="1896" y="1611" class="r">A</text><text x="1894" y="1638" class="r">G</text><text x="1870" y="1650" class="r">C</text><text x="1844" y="1639" class="d">U</text><text x="1822" y="1638" class="r">A</text><text x="1800" y="1637" class="r">G</text><text x="1778" y="1636" class="r">A</text><text x="1757" y="1634" class="r">A</text><text x="1736" y="1634" class="r">G</text><text x="1714" y="1632" class="r">U</text><text x="1692" y="1630" class="r">C</text><text x="1670" y="1629" class="d">A</text><text x="1637" y="1639" class="r">A</text><text x="1605" y="1623" class="g">A</text><text x="1584" y="1622" class="g">G</text><text x="1564" y="1702" class="y">C</text><text x="1543" y="1759" class="g">U</text>
<text x="1516" y="1813" class="p">C</text><text x="1535" y="1824" class="p">U</text><text x="1554" y="1834" class="p">G</text><text x="1573" y="1845" class="p">G</text><text x="1591" y="1855" class="p">U</text><text x="1609" y="1866" class="p">C</text><text x="1635" y="1857" class="p">C</text><text x="1662" y="1857" class="p">A</text><text x="1687" y="1871" class="p">A</text><text x="1701" y="1895" class="p">C</text><text x="1701" y="1925" class="b">A</text><text x="1687" y="1949" class="o">A</text><text x="1663" y="1964" class="o">U</text><text x="1635" y="1964" class="o">U</text><text x="1610" y="1950" class="r">A</text><text x="1595" y="1925" class="p">C</text><text x="1591" y="1899" class="p">G</text><text x="1573" y="1888" class="p">G</text><text x="1554" y="1879" class="p">C</text><text x="1535" y="1868" class="p">C</text><text x="1516" y="1858" class="p">A</text><text x="1497" y="1847" class="p">G</text>
<text x="1395" y="1960" class="p">C</text><text x="1426" y="1977" class="o">A</text><text x="1437" y="2011" class="p">U</text><text x="1452" y="2027" class="p">C</text><text x="1466" y="2045" class="p">C</text><text x="1480" y="2062" class="p">C</text><text x="1492" y="2078" class="p">G</text><text x="1506" y="2095" class="p">A</text><text x="1532" y="2106" class="p">A</text><text x="1543" y="2130" class="p">U</text><text x="1533" y="2156" class="p">C</text><text x="1506" y="2163" class="c">U</text><text x="1484" y="2147" class="p">C</text><text x="1477" y="2120" class="p">U</text><text x="1463" y="2103" class="p">C</text><text x="1449" y="2086" class="p">G</text><text x="1435" y="2069" class="p">G</text><text x="1421" y="2052" class="p">G</text><text x="1407" y="2035" class="p">A</text><text x="1376" y="2020" class="p">C</text><text x="1365" y="1985" class="p">G</text>
</g>
<g class="lb" transform="translate(0,5)">
<text x="126" y="417">140</text><text x="325" y="342">150</text><text x="311" y="602">130</text><text x="513" y="509">160</text><text x="510" y="802">120</text><text x="680" y="697">170</text><text x="804" y="704">180</text><text x="938" y="386">190</text><text x="997" y="703">200</text><text x="272" y="1005">100</text><text x="552" y="984">110</text><text x="590" y="1175">70</text><text x="352" y="1193">80</text><text x="56" y="1210">90</text><text x="930" y="918">270</text><text x="1059" y="787">210</text><text x="1232" y="619">220</text><text x="1464" y="394">230</text><text x="1766" y="250">240</text><text x="1589" y="553">250</text><text x="1397" y="732">260</text><text x="1677" y="1513">280</text><text x="1966" y="1577">290</text><text x="1687" y="1707">300</text><text x="1611" y="1778">310</text><text x="1615" y="2039">320</text><text x="1484" y="1927">330</text><text x="1491" y="2239">340</text><text x="1207" y="1840">350</text><text x="1218" y="2083">360</text><text x="1124" y="2378">370</text><text x="929" y="2123">10</text><text x="793" y="2383">20</text><text x="740" y="2083">30</text><text x="534" y="2122">50</text><text x="517" y="1865">60</text>
</g>
<g class="lg">
<text x="392" y="2833" fill="#ff0000" textLength="718" lengthAdjust="spacingAndGlyphs">Probability &gt;= 99%</text>
<text x="155" y="2908" fill="#ff8000" textLength="955" lengthAdjust="spacingAndGlyphs">99% &gt; Probability &gt;= 95%</text>
<text x="155" y="2982" fill="#d4d42a" textLength="955" lengthAdjust="spacingAndGlyphs">95% &gt; Probability &gt;= 90%</text>
<text x="155" y="3057" fill="#008000" textLength="955" lengthAdjust="spacingAndGlyphs">90% &gt; Probability &gt;= 80%</text>
<text x="155" y="3132" fill="#00ff00" textLength="955" lengthAdjust="spacingAndGlyphs">80% &gt; Probability &gt;= 70%</text>
<text x="155" y="3206" fill="#00aaff" textLength="955" lengthAdjust="spacingAndGlyphs">70% &gt; Probability &gt;= 60%</text>
<text x="155" y="3281" fill="#0000ff" textLength="955" lengthAdjust="spacingAndGlyphs">60% &gt; Probability &gt;= 50%</text>
<text x="155" y="3356" fill="#ff80ff" textLength="676" lengthAdjust="spacingAndGlyphs">50% &gt; Probability</text>
<text x="150" y="3452" fill="#000" textLength="1356" lengthAdjust="spacingAndGlyphs">ENERGY = -189.7&#160;&#160;01/01/26 23:55:06</text>
</g>
</svg>
</body></html>
